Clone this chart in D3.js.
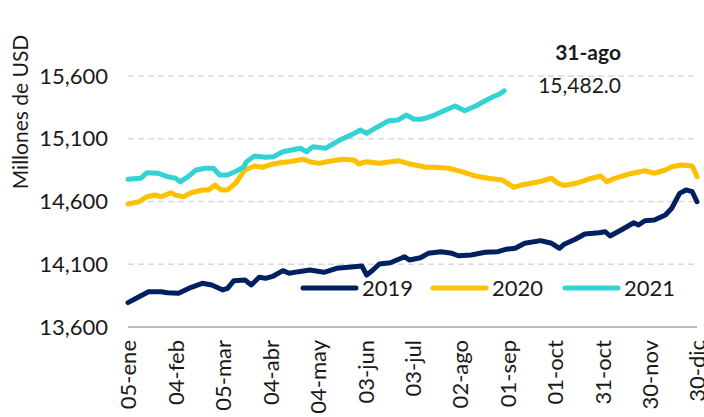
<!DOCTYPE html>
<html>
<head>
<meta charset="utf-8">
<script src="https://cdn.jsdelivr.net/npm/d3@7"></script>
<style>
  html, body { margin: 0; padding: 0; background: #fff; }
  svg { display: block; font-family: Lato, "Noto Sans", sans-serif; }
</style>
</head>
<body>
<svg id="chart" width="704" height="417"></svg>
<script>
// ---- data (day of year, value in millions USD) ----
const days2019 = [5,12,18,26,30,37,45,52,58,65,68,72,79,83,88,92,97,103,107,113,120,129,137,148,153,156,160,164,171,180,183,190,195,203,210,214,222,231,239,244,250,256,266,273,278,281,288,294,303,307,310,317,325,328,332,338,345,349,354,358,362,365];
const vals2019 = [13794,13841,13881,13881,13873,13868,13916,13948,13935,13895,13908,13969,13974,13935,13996,13988,14006,14049,14028,14041,14054,14036,14068,14080,14086,14014,14054,14102,14112,14160,14134,14152,14187,14200,14187,14168,14174,14195,14200,14219,14227,14267,14288,14267,14227,14260,14299,14341,14351,14359,14325,14373,14431,14413,14447,14452,14492,14546,14665,14692,14678,14598];

const days2020 = [5,12,17,22,26,32,35,40,45,52,56,60,64,68,73,79,85,90,97,101,107,116,120,126,133,141,148,151,156,164,176,183,190,193,199,208,216,225,233,242,249,254,265,273,277,281,290,296,304,308,313,322,332,338,345,349,355,362,365];
const vals2020 = [14580,14598,14638,14652,14638,14670,14652,14638,14670,14692,14692,14731,14692,14692,14745,14851,14883,14873,14899,14909,14917,14936,14917,14904,14923,14936,14931,14899,14917,14904,14925,14899,14883,14873,14873,14865,14838,14803,14785,14771,14713,14731,14757,14785,14745,14728,14750,14777,14803,14757,14785,14819,14845,14825,14851,14877,14891,14883,14798];

const days2021 = [5,13,17,24,30,35,38,43,48,54,59,63,68,74,78,80,85,92,97,103,114,118,122,130,139,147,152,156,162,170,176,181,186,190,193,199,206,212,218,225,231,236,240,243];
const vals2021 = [14777,14785,14830,14825,14798,14785,14757,14798,14851,14865,14865,14811,14811,14845,14873,14917,14962,14952,14957,14997,15024,14997,15037,15024,15090,15135,15170,15143,15188,15244,15250,15289,15255,15255,15263,15289,15329,15361,15323,15361,15403,15435,15456,15482];

const seriesNames = ["2019", "2020", "2021"];
const seriesColors = ["#002060", "#FFC000", "#33D3D3"];

const yTicks = [13600, 14100, 14600, 15100, 15600];
const xTickDays = [5,35,65,95,125,155,185,215,245,275,305,335,365];
const xTickLabels = ["05-ene","04-feb","05-mar","04-abr","04-may","03-jun","03-jul","02-ago","01-sep","01-oct","31-oct","30-nov","30-dic"];

const yTitle = "Millones de USD";
const annotDate = "31-ago";
const annotValue = 15482.0;

// ---- layout ----
const svg = d3.select("#chart");
const x = d3.scaleLinear().domain([5, 365]).range([128, 697]);
const y = d3.scaleLinear().domain([13600, 15600]).range([327, 76]);
const textColor = "#1a1a1a";

// gridlines
svg.append("g")
  .selectAll("line")
  .data(yTicks.slice(1))
  .join("line")
  .attr("x1", x(5)).attr("x2", x(365) + 1)
  .attr("y1", d => y(d)).attr("y2", d => y(d))
  .attr("stroke", "#d9d9d9")
  .attr("stroke-width", 1.3)
  .attr("stroke-dasharray", "6,4");

// y axis labels
const yAxis = d3.axisLeft(y).tickValues(yTicks).tickFormat(d3.format(",")).tickSize(0).tickPadding(20);
const gy = svg.append("g").attr("transform", `translate(${x(5)},0)`).call(yAxis);
gy.select(".domain").remove();
gy.selectAll("text")
  .attr("font-size", 22)
  .attr("font-family", "Lato, sans-serif")
  .attr("fill", textColor);

// x axis
const xAxis = d3.axisBottom(x).tickValues(xTickDays)
  .tickFormat((d, i) => xTickLabels[i]).tickSize(0);
const gx = svg.append("g").attr("transform", `translate(0,${y(13600)})`).call(xAxis);
gx.select(".domain").attr("stroke", "#a6a6a6").attr("stroke-width", 1.5)
  .attr("d", `M${x(5)},0H${x(365)}`);
gx.selectAll("text")
  .attr("font-size", 22)
  .attr("font-family", "Lato, sans-serif")
  .attr("fill", textColor)
  .attr("text-anchor", "end")
  .attr("transform", "translate(0,13) rotate(-90)")
  .attr("x", 0).attr("y", 0).attr("dy", "0.36em");

// y title
svg.append("text")
  .attr("transform", "translate(28,112) rotate(-90)")
  .attr("text-anchor", "middle")
  .attr("font-size", 21)
  .attr("fill", textColor)
  .text(yTitle);

// lines
const line = d3.line().x(d => x(d[0])).y(d => y(d[1]));
const series = [
  d3.zip(days2019, vals2019),
  d3.zip(days2020, vals2020),
  d3.zip(days2021, vals2021)
];
svg.append("g").selectAll("path")
  .data(series)
  .join("path")
  .attr("d", line)
  .attr("fill", "none")
  .attr("stroke", (d, i) => seriesColors[i])
  .attr("stroke-width", 5)
  .attr("stroke-linejoin", "round")
  .attr("stroke-linecap", "round");

// legend
const legendX = [303, 433, 565];
const leg = svg.append("g");
seriesNames.forEach((name, i) => {
  leg.append("line")
    .attr("x1", legendX[i]).attr("x2", legendX[i] + 53)
    .attr("y1", 288).attr("y2", 288)
    .attr("stroke", seriesColors[i]).attr("stroke-width", 5)
    .attr("stroke-linecap", "round");
  leg.append("text")
    .attr("x", legendX[i] + 59).attr("y", 295.5)
    .attr("font-size", 22).attr("fill", textColor)
    .text(name);
});

// annotation
svg.append("text")
  .attr("x", 621).attr("y", 60)
  .attr("text-anchor", "end")
  .attr("font-size", 21).attr("font-weight", "bold")
  .attr("fill", textColor)
  .text(annotDate);
svg.append("text")
  .attr("x", 621).attr("y", 93)
  .attr("text-anchor", "end")
  .attr("font-size", 21)
  .attr("fill", textColor)
  .text(d3.format(",.1f")(annotValue));
</script>
</body>
</html>
